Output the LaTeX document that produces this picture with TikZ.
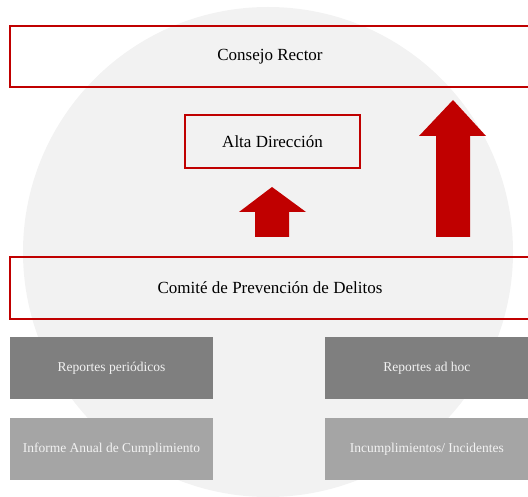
\documentclass[tikz,border=0pt]{standalone}
\usepackage{fontspec}
\setmainfont{Liberation Serif}
\usetikzlibrary{positioning}
\definecolor{darkred}{HTML}{C00000}
\definecolor{circlegray}{HTML}{F2F2F2}
\definecolor{repdark}{HTML}{7F7F7F}
\definecolor{replight}{HTML}{A5A5A5}

\begin{document}
\begin{tikzpicture}[x=1pt,y=-1pt,
    redbox/.style={draw=darkred, line width=2pt, inner sep=0pt, font=\fontsize{17}{20}\selectfont},
    repbox/.style={fill=#1, text=white!95!black, minimum width=203pt, minimum height=62pt, inner sep=0pt, font=\fontsize{13.5}{16}\selectfont}]
    \useasboundingbox (0,0) rectangle (528,497);

    % Background
    \fill[circlegray] (268,252) circle[radius=245pt];

    % Levels
    \node[redbox, minimum width=520pt, minimum height=61pt] (rector) at (270,56.5) {Consejo Rector};
    \node[redbox, minimum width=175pt, minimum height=53pt] (alta) at (272.5,141.5) {Alta Dirección};
    \node[redbox, minimum width=520pt, minimum height=62pt] (comite) at (270,288) {Comité de Prevención de Delitos};

    % Reports
    \node[repbox=repdark] (periodicos) at (111.5,368) {Reportes periódicos};
    \node[repbox=replight, below=19pt of periodicos] (informe) {Informe Anual de Cumplimiento};
    \node[repbox=repdark, right=112pt of periodicos] (adhoc) {Reportes ad hoc};
    \node[repbox=replight, below=19pt of adhoc] (incumpl) {Incumplimientos/ Incidentes};

    % Arrows
    \coordinate (smallbase) at (272,237);
    \coordinate (bigbase) at (453,237);
    \fill[darkred] (smallbase) ++(-17,0) -- ++(0,-25) -- ++(-16,0) -- ++(33,-25) -- ++(34,25) -- ++(-17,0) -- ++(0,25) -- cycle;
    \fill[darkred] (bigbase) ++(-17,0) -- ++(0,-101) -- ++(-17,0) -- ++(34,-36) -- ++(33,36) -- ++(-16,0) -- ++(0,101) -- cycle;
\end{tikzpicture}
\end{document}
